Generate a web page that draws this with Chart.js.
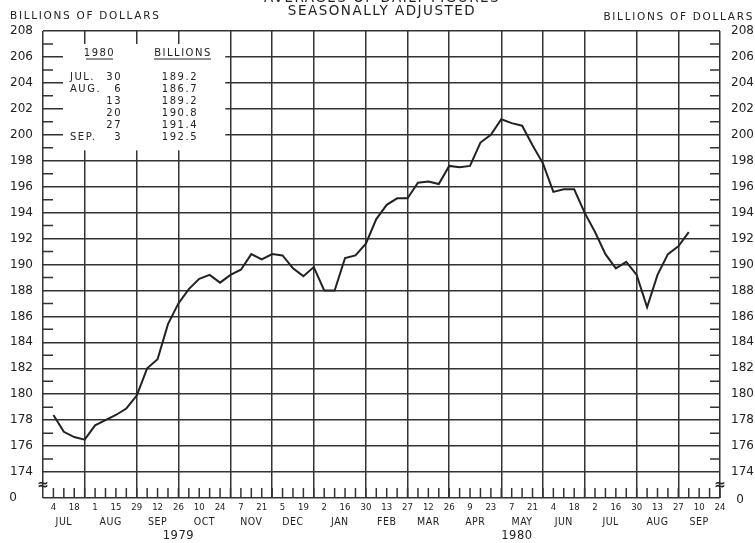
<!DOCTYPE html>
<html>
<head>
<meta charset="utf-8">
<script src="https://cdn.jsdelivr.net/npm/chart.js@4.4.1/dist/chart.umd.min.js"></script>
<style>
  html, body { margin: 0; background: #fff; }
  #wrap { width: 755px; height: 543px; }
</style>
</head>
<body>
<div id="wrap"><canvas id="chart" width="755" height="543"></canvas></div>
<script>
// Weekly series, Jul 4 1979 .. Sep 24 1980 (Wednesdays). Values stop at Sep 3 1980.
const weekDays = [4, 11, 18, 25, 1, 8, 15, 22, 29, 5, 12, 19, 26, 3, 10, 17, 24, 31,
  7, 14, 21, 28, 5, 12, 19, 26, 2, 9, 16, 23, 30, 6, 13, 20, 27, 5, 12, 19, 26,
  2, 9, 16, 23, 30, 7, 14, 21, 28, 4, 11, 18, 25, 2, 9, 16, 23, 30, 6, 13, 20, 27,
  3, 10, 17, 24];
const monthNames = ['JUL', 'AUG', 'SEP', 'OCT', 'NOV', 'DEC', 'JAN', 'FEB', 'MAR',
  'APR', 'MAY', 'JUN', 'JUL', 'AUG', 'SEP'];
const monthWeeks = [4, 5, 4, 5, 4, 4, 5, 4, 4, 5, 4, 4, 5, 4, 4];
const yearLabels = ['1979', '1980'];
const yearMonths = [6, 9];

const values = [178.4, 177.1, 176.7, 176.5, 177.6, 178.0, 178.4, 178.9, 179.9, 182.0,
  182.7, 185.4, 187.0, 188.1, 188.9, 189.2, 188.6, 189.2, 189.6, 190.8,
  190.4, 190.8, 190.7, 189.7, 189.1, 189.8, 188.0, 188.0, 190.5, 190.7,
  191.6, 193.5, 194.6, 195.1, 195.1, 196.3, 196.4, 196.2, 197.6, 197.5,
  197.6, 199.4, 200.0, 201.2, 200.9, 200.7, 199.2, 197.8, 195.6, 195.8,
  195.8, 194.0, 192.5, 190.8, 189.7, 190.2, 189.2, 186.7, 189.2, 190.8,
  191.4, 192.5];

// Y axis: 172 stands for the broken-off zero line
const yMin = 172, yMax = 208, yStep = 2;

// inset table
const tableMonths = ['JUL.', 'AUG.', '', '', '', 'SEP.'];
const tableDays = ['30', '6', '13', '20', '27', '3'];
const tableValues = ['189.2', '186.7', '189.2', '190.8', '191.4', '192.5'];

const FONT = "'DejaVu Sans', sans-serif";
const NARROW = "'DejaVu Sans Condensed', 'Liberation Sans Narrow', 'DejaVu Sans', sans-serif";
const INK = '#222';
const GRID = '#333';

// month boundaries in week-index units (slot before Jul 4 is -1)
const monthEdges = [-1];
monthWeeks.forEach(n => monthEdges.push(monthEdges[monthEdges.length - 1] + n));

function text(ctx, str, x, y, font, align, spacing, baseline) {
  ctx.font = font;
  ctx.textAlign = align || 'center';
  ctx.textBaseline = baseline || 'middle';
  ctx.letterSpacing = (spacing || 0) + 'px';
  ctx.fillText(str, x, y);
}

const decor = {
  id: 'decor',
  beforeDatasetsDraw(chart) {
    const { ctx, chartArea: a } = chart;
    const x = chart.scales.x, y = chart.scales.y;
    ctx.save();
    // blank box behind the inset table
    ctx.fillStyle = '#fff';
    const bx0 = x.getPixelForValue(0.92), bx1 = x.getPixelForValue(16.5);
    const by0 = y.getPixelForValue(207.0), by1 = y.getPixelForValue(198.8);
    ctx.fillRect(bx0, by0, bx1 - bx0, by1 - by0);

    // inner minor ticks
    ctx.strokeStyle = GRID;
    ctx.lineWidth = 1.5;
    ctx.beginPath();
    for (let v = yMin + 3; v < yMax; v += yStep) {
      const py = y.getPixelForValue(v);
      ctx.moveTo(a.left, py); ctx.lineTo(a.left + 10, py);
      ctx.moveTo(a.right, py); ctx.lineTo(a.right - 10, py);
    }
    weekDays.forEach((d, i) => {
      const px = x.getPixelForValue(i);
      ctx.moveTo(px, a.bottom); ctx.lineTo(px, a.bottom - 10);
    });
    ctx.stroke();

    // axis breaks
    ctx.fillStyle = INK;
    const pyb = y.getPixelForValue(173);
    text(ctx, '≈', a.left, pyb, 'bold 14px ' + FONT);
    text(ctx, '≈', a.right, pyb, 'bold 14px ' + FONT);
    ctx.restore();
  },
  afterDraw(chart) {
    const { ctx, chartArea: a } = chart;
    const x = chart.scales.x, y = chart.scales.y;
    ctx.save();
    ctx.fillStyle = INK;
    ctx.strokeStyle = INK;

    // titles (the upper line is cut off by the top edge)
    text(ctx, 'AVERAGES OF DAILY FIGURES', 382, 1.5, '13.5px ' + FONT, 'center', 1.5, 'alphabetic');
    text(ctx, 'SEASONALLY ADJUSTED', 382, 11, '13.5px ' + FONT, 'center', 1.5);
    text(ctx, 'BILLIONS OF DOLLARS', 10, 16, '10.5px ' + FONT, 'left', 1.7);
    text(ctx, 'BILLIONS OF DOLLARS', 754, 17, '10.5px ' + FONT, 'right', 1.7);

    // zero labels below the break
    const p0 = y.getPixelForValue(yMin);
    text(ctx, '0', 13, p0, '12px ' + FONT);
    text(ctx, '0', a.right + 20, p0 + 2, '12px ' + FONT);

    // month and year labels
    monthNames.forEach((m, k) => {
      const c = (x.getPixelForValue(monthEdges[k]) + x.getPixelForValue(monthEdges[k + 1])) / 2;
      text(ctx, m, c, a.bottom + 24, '10.5px ' + NARROW, 'center', 0.5);
    });
    let mk = 0;
    yearLabels.forEach((yl, j) => {
      const l = x.getPixelForValue(monthEdges[mk]);
      const r = x.getPixelForValue(monthEdges[mk + yearMonths[j]]);
      mk += yearMonths[j];
      text(ctx, yl, (l + r) / 2, a.bottom + 38, '11.5px ' + FONT, 'center', 0.5);
    });

    // inset table
    const tf = '10px ' + FONT;
    text(ctx, '1980', 99.5, 53, tf, 'center', 1.5);
    text(ctx, 'BILLIONS', 183, 53, tf, 'center', 1.5);
    ctx.lineWidth = 1;
    ctx.beginPath();
    ctx.moveTo(86, 59); ctx.lineTo(113, 59);
    ctx.moveTo(154, 59); ctx.lineTo(211, 59);
    ctx.stroke();
    tableDays.forEach((d, i) => {
      const ry = 77 + i * 12;
      if (tableMonths[i]) text(ctx, tableMonths[i], 70, ry, tf, 'left', 1.5);
      text(ctx, d, 122, ry, tf, 'right', 1.5);
      text(ctx, tableValues[i], 198, ry, tf, 'right', 1.5);
    });
    ctx.restore();
  }
};

new Chart(document.getElementById('chart').getContext('2d'), {
  type: 'line',
  data: {
    datasets: [{
      data: values.map((v, i) => ({ x: i, y: v })),
      borderColor: INK,
      borderWidth: 2,
      pointRadius: 0,
      tension: 0,
      fill: false,
    }],
  },
  options: {
    responsive: false,
    animation: false,
    layout: { padding: { top: 31 } },
    plugins: { legend: { display: false }, tooltip: { enabled: false } },
    scales: {
      x: {
        type: 'linear',
        min: -1,
        max: weekDays.length - 1,
        afterBuildTicks: s => {
          s.ticks = [{ value: -1 }].concat(weekDays.map((d, i) => ({ value: i })));
        },
        afterFit: s => { s.height = 45; },
        grid: {
          color: c => (c.tick && monthEdges.includes(c.tick.value)) ? GRID : 'rgba(0,0,0,0)',
          lineWidth: 1.5,
          drawTicks: false,
        },
        border: { display: false },
        ticks: {
          autoSkip: false,
          maxRotation: 0,
          padding: 4,
          color: INK,
          font: { family: NARROW, size: 9.5 },
          callback: v => (v >= 0 && v % 2 === 0) ? String(weekDays[v]) : '',
        },
      },
      y: {
        position: 'left',
        min: yMin,
        max: yMax,
        afterFit: s => { s.width = 43; },
        grid: { color: GRID, lineWidth: 1.5, drawTicks: false },
        border: { display: false },
        ticks: {
          stepSize: yStep,
          padding: 10,
          color: INK,
          font: { family: FONT, size: 12 },
          callback: v => v === yMin ? '' : String(v),
        },
      },
      y2: {
        position: 'right',
        min: yMin,
        max: yMax,
        afterFit: s => { s.width = 35; },
        grid: { display: false },
        border: { display: false },
        ticks: {
          stepSize: yStep,
          padding: 3,
          color: INK,
          font: { family: FONT, size: 12 },
          callback: v => v === yMin ? '' : String(v),
        },
      },
    },
  },
  plugins: [decor],
});
</script>
</body>
</html>
